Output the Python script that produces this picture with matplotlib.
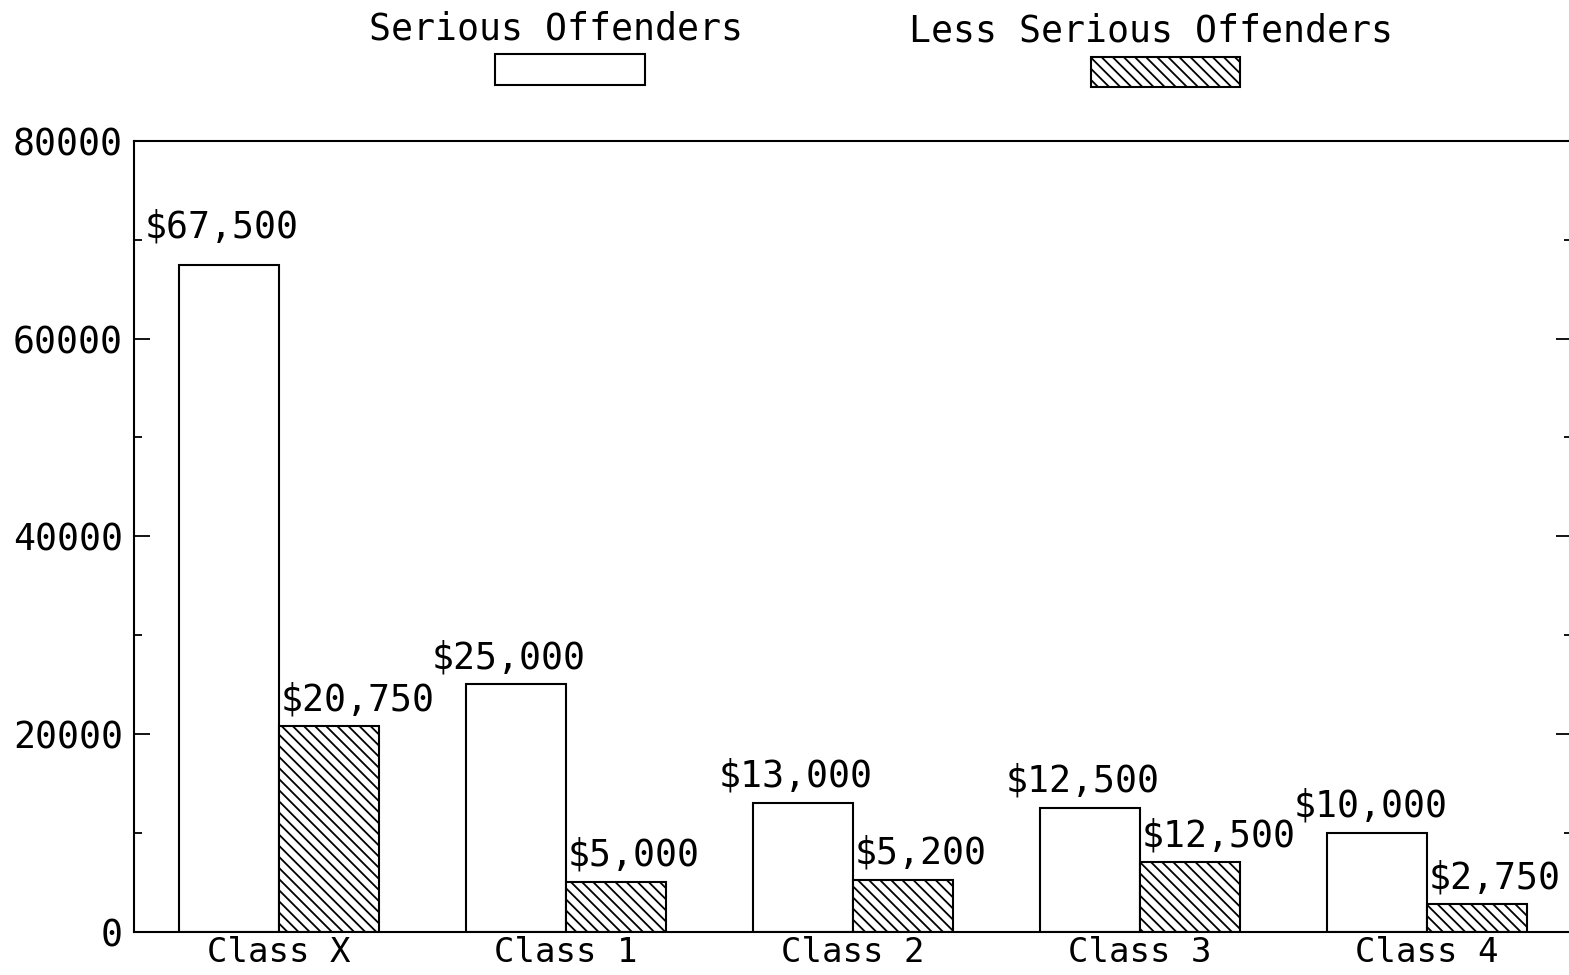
import numpy as np
import matplotlib
matplotlib.use("Agg")
import matplotlib.pyplot as plt
from matplotlib.patches import Rectangle

categories = ['Class X', 'Class 1', 'Class 2', 'Class 3', 'Class 4']
serious = [67500, 25000, 13000, 12500, 10000]
less_serious = [20750, 5000, 5200, 7000, 2750]
serious_labels = ['$67,500', '$25,000', '$13,000', '$12,500', '$10,000']
less_labels = ['$20,750', '$5,000', '$5,200', '$12,500', '$2,750']

plt.rcParams['font.family'] = ['DejaVu Sans Mono']
plt.rcParams['hatch.linewidth'] = 1.3
fs = 26.3
hatch = '\\\\\\'

fig = plt.figure(figsize=(15.69, 9.75), dpi=100)
ax = fig.add_axes([0.0854, 0.0446, 0.9165, 0.8108])

x = np.arange(len(categories))
w = 0.348
b1 = ax.bar(x - w / 2, serious, w, color='white', edgecolor='black', linewidth=1.5)
b2 = ax.bar(x + w / 2, less_serious, w, color='white', edgecolor='black',
            linewidth=1.5, hatch=hatch)

for i, (rect, lab) in enumerate(zip(b1, serious_labels)):
    dy = 14 if i == 0 else 6
    ax.annotate(lab, (rect.get_x() + rect.get_width() / 2, rect.get_height()),
                xytext=(-5, dy), textcoords='offset points', ha='center', va='bottom',
                fontsize=fs)
for rect, lab in zip(b2, less_labels):
    ax.annotate(lab, (rect.get_x(), rect.get_height()),
                xytext=(1, 6), textcoords='offset points', ha='left', va='bottom',
                fontsize=fs)

ax.set_xlim(-0.505, 4.505)
ax.set_ylim(0, 80000)
ax.set_yticks(np.arange(0, 80001, 20000))
ax.set_yticks(np.arange(10000, 80000, 20000), minor=True)
ax.set_xticks(x)
ax.set_xticklabels(categories, fontsize=24.5)
ax.tick_params(axis='x', length=0, pad=3.5)
ax.tick_params(axis='y', which='major', direction='in', length=11.5, width=1.3,
               labelsize=fs, pad=8, right=True)
ax.tick_params(axis='y', which='minor', direction='in', length=6, width=1.3, right=True)
for s in ax.spines.values():
    s.set_linewidth(1.5)

# legend drawn above the axes: label on top, swatch below
fig.text(0.3544, 0.970, 'Serious Offenders', ha='center', va='center', fontsize=fs)
fig.text(0.7336, 0.968, 'Less Serious Offenders', ha='center', va='center', fontsize=fs)
fig.add_artist(Rectangle((0.3155, 0.9128), 0.0956, 0.0318, transform=fig.transFigure,
                         facecolor='white', edgecolor='black', linewidth=1.5))
fig.add_artist(Rectangle((0.6953, 0.9108), 0.0950, 0.0308, transform=fig.transFigure,
                         facecolor='white', edgecolor='black', linewidth=1.5,
                         hatch=hatch))

fig.savefig('out.png', dpi=100)
